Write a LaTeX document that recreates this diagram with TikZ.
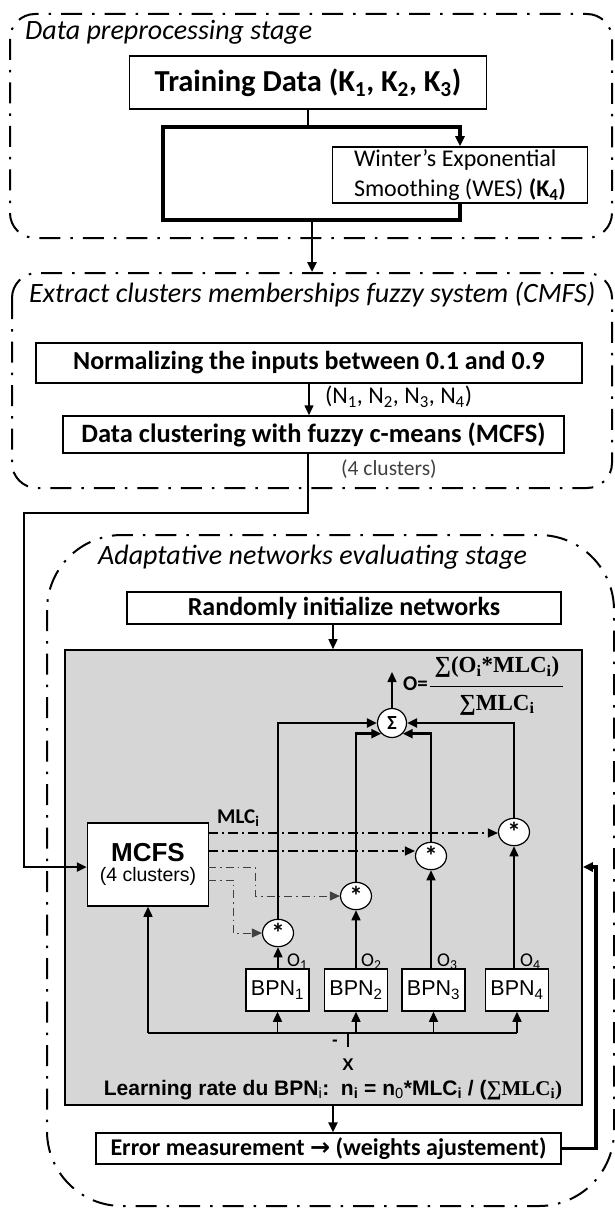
\documentclass[tikz,border=0pt]{standalone}
\usepackage{fontspec}
\setmainfont{Carlito}
\newfontfamily\arialf{Liberation Sans}
\newfontfamily\timesf{Liberation Serif}
\newfontfamily\dejavuf{DejaVu Sans}
\usetikzlibrary{arrows.meta,shapes.geometric}
\newcommand\fsz[1]{\fontsize{#1}{#1}\selectfont}
\begin{document}
\begin{tikzpicture}[x=1pt,y=-1pt,
  stage/.style={line width=2pt, dash pattern=on 21pt off 10pt on 2.5pt off 10pt},
  box/.style={draw, line width=1.5pt, fill=white, inner sep=0pt},
  arr/.style={-{Triangle[length=10pt,width=9pt]}},
  heavy/.style={line width=3.5pt},
  medium/.style={line width=2.4pt},
  thinl/.style={line width=1.5pt},
  ddot/.style={line width=1.3pt, dash pattern=on 10pt off 4pt on 2pt off 4pt},
  ddotl/.style={line width=0.9pt, black!75, dash pattern=on 8pt off 4pt on 1.5pt off 4pt},
  title/.style={anchor=west, inner sep=0pt, font=\fsz{28}\itshape},
  star/.style={ellipse, draw, line width=1.2pt, fill=white, minimum width=31pt, minimum height=27pt, inner sep=0pt, font=\fsz{27}\bfseries},
  bpn/.style={box, minimum width=63pt, minimum height=42pt, font=\fsz{21.5}\arialf},
  olab/.style={anchor=south west, inner sep=0pt, font=\fsz{19.5}}
]
\useasboundingbox (0,0) rectangle (615,1209);

% ---------- stage 1 ----------
\draw[stage, rounded corners=25pt] (10,14) rectangle (612,238);
\node[title] (t1) at (25,32) {Data preprocessing stage};
\node[box, minimum width=357pt, minimum height=53pt, font=\fsz{30.5}\bfseries] (train) at (308,82.5) {Training Data (K\textsubscript{1}, K\textsubscript{2}, K\textsubscript{3})};
\node[box, minimum width=255pt, minimum height=56pt, align=left, font=\fontsize{24}{30}\selectfont] (wes) at (460,175) {Winter's Exponential\\Smoothing (WES) \textbf{(K\textsubscript{4})}};
\coordinate (a1) at (163,127);
\coordinate (a2) at (460,127);
\coordinate (a3) at (163,220);
\coordinate (a4) at (460,220);
\coordinate (a5) at (312,220);
\draw[thinl] (train.south) -- (train.south |- a1);
\draw[heavy] (a2) -- (a1) -- (a3) -- (a4) -- (wes.south);
\draw[heavy, arr] (a1) -- (a2) -- (wes.north);

% ---------- stage 2 ----------
\draw[stage, rounded corners=25pt] (12,273) rectangle (612,488);
\node[title] (t2) at (29,295) {Extract clusters memberships fuzzy system (CMFS)};
\draw[medium, arr] (a5) -- (a5 |- 0,272);
\node[box, minimum width=546pt, minimum height=40pt, font=\fsz{26}\bfseries] (norm) at (309,363) {Normalizing the inputs between 0.1 and 0.9};
\node[box, minimum width=501pt, minimum height=37pt, font=\fsz{26.5}\bfseries] (clus) at (313.5,434.5) {Data clustering with fuzzy c-means (MCFS)};
\draw[thinl, arr] (norm.south) -- (norm.south |- clus.north);
\node[anchor=west, inner sep=0pt, font=\fsz{24}] (nlab) at (325,397) {(N\textsubscript{1}, N\textsubscript{2}, N\textsubscript{3}, N\textsubscript{4})};
\node[anchor=west, inner sep=0pt, font=\fsz{21.5}, text=black!75] (clab) at (341,469) {(4 clusters)};

% ---------- stage 3 ----------
\draw[stage, rounded corners=75pt] (47,535) rectangle (614,1206);
\node[title] (t3) at (98,557) {Adaptative networks evaluating stage};
\node[box, minimum width=434pt, minimum height=32pt, font=\fsz{26}\bfseries] (rand) at (344,608) {Randomly initialize networks};
\node[draw, line width=1.6pt, fill=black!16, minimum width=517pt, minimum height=455pt, inner sep=0pt] (net) at (323.5,877.5) {};
\coordinate (r1) at (333,624);
\draw[thinl, arr] (r1) -- (r1 |- net.north);

% sigma and formula
\node[circle, draw, line width=1.2pt, fill=white, minimum size=29pt, inner sep=0pt, font=\fsz{20}\bfseries] (sig) at (392,723) {Σ};
\coordinate (oout) at (392,672);
\draw[thinl, arr] (sig.north) -- (oout);
\node[anchor=west, inner sep=0pt, font=\fsz{21}\bfseries] (oeq) at (403,684) {O=};
\node[inner sep=0pt, font=\fsz{23}\timesf\bfseries] (onum) at (497,667) {∑(O\textsubscript{i}*MLC\textsubscript{i})};
\node[inner sep=0pt, font=\fsz{23}\timesf\bfseries] (oden) at (497,705) {∑MLC\textsubscript{i}};
\draw[line width=0.9pt] (430,686) -- (563,686);

% MCFS
\node[box, minimum width=121pt, minimum height=83pt, align=center] (mcfs) at (148,864.5) {{\fsz{26}\arialf\bfseries MCFS}\\[4pt]{\fsz{19.5}\arialf (4 clusters)}};
\node[anchor=west, inner sep=0pt, font=\fsz{21}\bfseries] (mlc) at (217,818) {MLC\textsubscript{i}};

% products
\node[star] (s1) at (278,933) {\raisebox{-6pt}{*}};
\node[star] (s2) at (356,896) {\raisebox{-6pt}{*}};
\node[star] (s3) at (431,856) {\raisebox{-6pt}{*}};
\node[star] (s4) at (514,832) {\raisebox{-6pt}{*}};

% BPN
\node[bpn] (b1) at (277.5,990) {BPN\textsubscript{1}};
\node[bpn] (b2) at (356,990) {BPN\textsubscript{2}};
\node[bpn] (b3) at (433.5,990) {BPN\textsubscript{3}};
\node[bpn] (b4) at (517,990) {BPN\textsubscript{4}};
\node[olab] (o1) at (287,970) {O\textsubscript{1}};
\node[olab] (o2) at (361,970) {O\textsubscript{2}};
\node[olab] (o3) at (437,970) {O\textsubscript{3}};
\node[olab] (o4) at (520,970) {O\textsubscript{4}};
\draw[thinl, arr] (b1.north -| s1) -- (s1.south);
\draw[thinl, arr] (b2.north -| s2) -- (s2.south);
\draw[thinl, arr] (b3.north -| s3) -- (s3.south);
\draw[thinl, arr] (b4.north -| s4) -- (s4.south);

% products to sigma
\draw[medium, arr] (s1.north) -- (s1.north |- sig.west) -- (sig.west);
\draw[medium, arr] (s2.north) -- (s2.north |- sig.south west) -- (sig.south west);
\draw[medium, arr] (s3.north) -- (s3.north |- sig.south east) -- (sig.south east);
\draw[medium, arr] (s4.north) -- (s4.north |- sig.east) -- (sig.east);

% MLC dash-dot lines
\coordinate (l1) at (208,833);
\coordinate (l2) at (208,851);
\coordinate (l3) at (208,867);
\coordinate (l4) at (208,880);
\coordinate (k3) at (255,867);
\coordinate (k4) at (233,880);
\draw[ddot, arr] (l1) -- (s4.west |- l1);
\draw[ddot, arr] (l2) -- (s3.west |- l2);
\draw[ddotl, arr] (l3) -- (k3) -- (k3 |- s2.west) -- (s2.west);
\draw[ddotl, arr] (l4) -- (k4) -- (k4 |- s1.west) -- (s1.west);

% bus
\coordinate (busL) at (148,1033);
\coordinate (busR) at (517,1033);
\coordinate (xt) at (348,1047);
\draw[thinl] (busL) -- (busR);
\draw[thinl, arr] (busL) -- (mcfs.south);
\draw[thinl, arr] (b1.south |- busL) -- (b1.south);
\draw[thinl, arr] (b2.south |- busL) -- (b2.south);
\draw[thinl, arr] (b3.south |- busL) -- (b3.south);
\draw[thinl, arr] (b4.south |- busL) -- (b4.south);
\draw[thinl] (xt |- busL) -- (xt);
\node[inner sep=0pt, font=\fsz{17}\arialf\bfseries] (minus) at (335,1043) {-};
\node[inner sep=0pt, font=\fsz{17}\arialf\bfseries] (xl) at (348,1065) {X};
\node[inner sep=0pt, font=\fsz{21}\arialf\bfseries] (lr) at (333,1090) {Learning rate du BPN{\mdseries\textsubscript{i}}:\ \ n\textsubscript{i} = n{\mdseries\textsubscript{0}}*MLC\textsubscript{i} / ({\timesf ∑MLC\textsubscript{i})}};

% error
\node[box, minimum width=465pt, minimum height=31pt, font=\fsz{24}\bfseries] (err) at (328.5,1148.5) {Error measurement {\dejavuf →} (weights ajustement)};
\draw[medium, arr] (net.south -| r1) -- (err.north -| r1);
\coordinate (fb) at (596,867);
\draw[heavy, arr] (err.east) -| (fb) -- (net.east |- fb);

% input from clustering
\coordinate (c1) at (308,513);
\coordinate (c2) at (24,513);
\coordinate (c3) at (24,867);
\draw[medium, arr] (clus.south -| c1) -- (c1) -- (c2) -- (c3) -- (mcfs.west |- c3);
\end{tikzpicture}
\end{document}
